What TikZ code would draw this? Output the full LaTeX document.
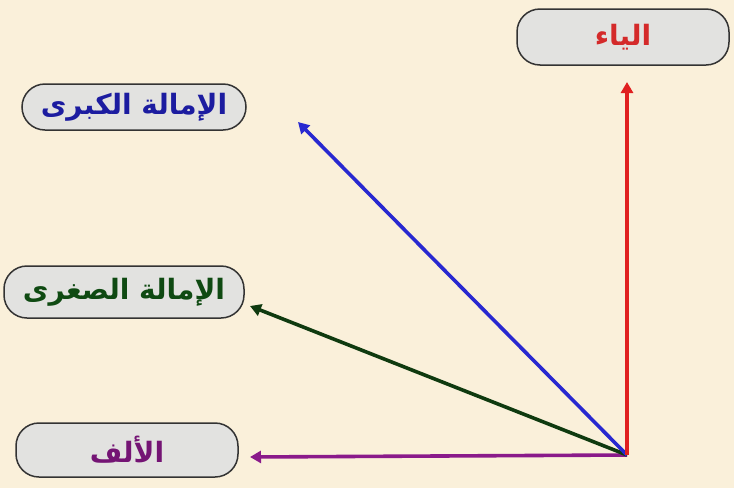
\documentclass[tikz,border=0pt]{standalone}
\usepackage{fontspec}
\TeXXeTstate=1
\newfontfamily\arabicfont[Script=Arabic]{DejaVu Sans}
\usetikzlibrary{arrows.meta}
\definecolor{bgcream}{HTML}{FAF0DA}
\definecolor{boxgray}{HTML}{E2E2E0}
\definecolor{tred}{HTML}{D42A2A}
\definecolor{tblue}{HTML}{1C1CA0}
\definecolor{tgreen}{HTML}{0F4A12}
\definecolor{tpurple}{HTML}{741474}
\definecolor{ared}{HTML}{E02020}
\definecolor{ablue}{HTML}{2828D0}
\definecolor{agreen}{HTML}{0F3A0F}
\definecolor{apurple}{HTML}{8A1A8A}
\tikzset{
  pill/.style={draw=black!80, line width=1.5pt, fill=boxgray, rounded corners=23pt,
    inner sep=0pt, font=\arabicfont\bfseries\fontsize{28}{32}\selectfont},
  arr/.style={line width=3.6pt, -{Triangle[length=11pt,width=12pt]}}
}
\begin{document}
\begin{tikzpicture}[x=1pt,y=-1pt]
\fill[bgcream] (0,0) rectangle (734,488);
\useasboundingbox (0,0) rectangle (734,488);
\node[pill, minimum width=212pt, minimum height=56pt, text=tred] (ya) at (623,37) {\beginR الياء\endR};
\node[pill, minimum width=224pt, minimum height=46pt, text=tblue] (kubra) at (134,107) {\beginR الإمالة الكبرى\endR};
\node[pill, minimum width=240pt, minimum height=52pt, text=tgreen] (sughra) at (124,292) {\beginR الإمالة الصغرى\endR};
\node[pill, minimum width=222pt, minimum height=54pt, text=tpurple] (alif) at (127,450) {\beginR الألف\endR};
\coordinate (o) at (627,455);
\coordinate (ered) at (627,82);
\coordinate (eblue) at (298,122);
\coordinate (egreen) at (250,306);
\coordinate (epurple) at (250,457);
\draw[arr, draw=apurple, fill=apurple] (o) -- (epurple);
\draw[arr, draw=agreen, fill=agreen] (o) -- (egreen);
\draw[arr, draw=ablue, fill=ablue] (o) -- (eblue);
\draw[arr, draw=ared, fill=ared] (o) -- (ered);
\end{tikzpicture}
\end{document}
